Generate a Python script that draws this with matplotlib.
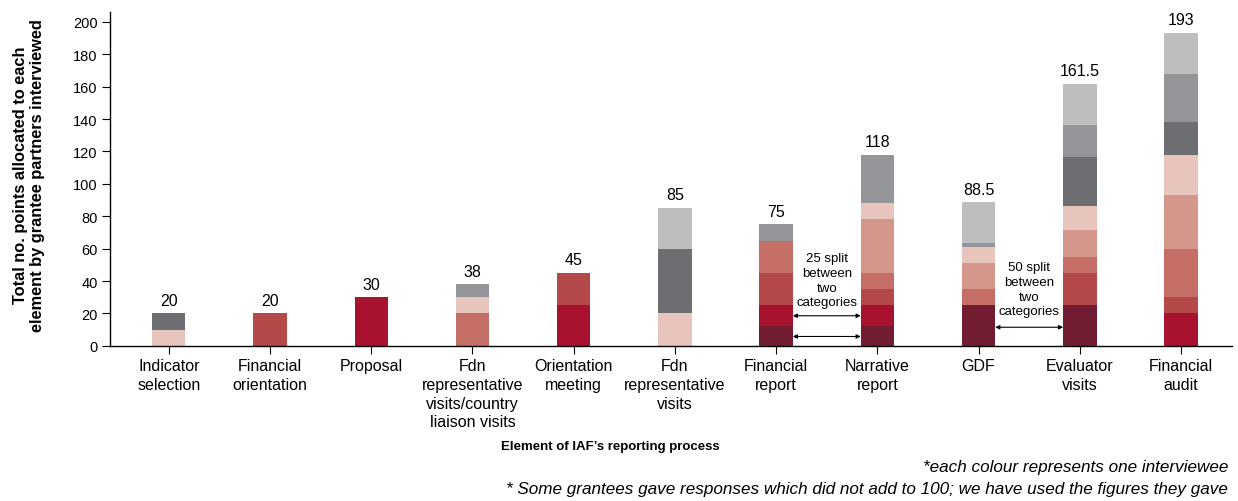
import matplotlib
matplotlib.use("Agg")
import matplotlib.pyplot as plt
import numpy as np

plt.rcParams['font.family'] = ['Liberation Sans', 'DejaVu Sans']

# categories on the x axis
categories = ["Indicator\nselection", "Financial\norientation", "Proposal",
              "Fdn\nrepresentative\nvisits/country\nliaison visits",
              "Orientation\nmeeting", "Fdn\nrepresentative\nvisits",
              "Financial\nreport", "Narrative\nreport", "GDF",
              "Evaluator\nvisits", "Financial\naudit"]

# points given by each interviewee (one colour each), bottom to top
maroon       = [0, 0, 0, 0, 0, 0, 12.5, 12.5, 25, 25, 0]
crimson      = [0, 0, 30, 0, 25, 0, 12.5, 12.5, 0, 0, 20]
red          = [0, 20, 0, 0, 20, 0, 20, 10, 0, 20, 10]
salmon       = [0, 0, 0, 20, 0, 0, 20, 10, 10, 10, 30]
light_salmon = [0, 0, 0, 0, 0, 0, 0, 33, 16, 16.5, 33]
pale_pink    = [10, 0, 0, 10, 0, 20, 0, 10, 10, 15, 25]
dark_grey    = [10, 0, 0, 0, 0, 40, 0, 0, 0, 30, 20]
mid_grey     = [0, 0, 0, 8, 0, 0, 10, 30, 2.5, 20, 30]
light_grey   = [0, 0, 0, 0, 0, 25, 0, 0, 25, 25, 25]

series = [maroon, crimson, red, salmon, light_salmon, pale_pink,
          dark_grey, mid_grey, light_grey]
colours = ["#721c31", "#a9122f", "#b54848", "#c46e66", "#d5978b",
           "#e8c5bc", "#6d6e72", "#939598", "#bdbec0"]

fig = plt.figure(figsize=(12.38, 5.02), dpi=100)
ax = fig.add_axes([0.0889, 0.309, 0.906, 0.665])

x = np.arange(len(categories))
bottom = np.zeros(len(categories))
for vals, col in zip(series, colours):
    ax.bar(x, vals, 0.33, bottom=bottom, color=col, linewidth=0)
    bottom += np.array(vals)

# totals above bars
for xi, t in zip(x, bottom):
    ax.text(xi, t + 3.5, f"{t:g}", ha="center", va="bottom", fontsize=11.5)

# split annotations
arrow = dict(arrowstyle="<|-|>", color="black", lw=0.8,
             mutation_scale=6, shrinkA=0, shrinkB=0)
for yy in (18.6, 5.8):
    ax.annotate("", xy=(6.165, yy), xytext=(6.835, yy), arrowprops=arrow)
ax.text(6.5, 40.5, "25 split\nbetween\ntwo\ncategories", ha="center",
        va="center", fontsize=9.5, linespacing=1.3)
ax.annotate("", xy=(8.165, 11.5), xytext=(8.835, 11.5), arrowprops=arrow)
ax.text(8.5, 35, "50 split\nbetween\ntwo\ncategories", ha="center",
        va="center", fontsize=9.5, linespacing=1.3)

ax.set_xlim(-0.58, 10.5)
ax.set_ylim(0, 206)
ax.set_yticks(range(0, 201, 20))
ax.set_xticks(x)
ax.set_xticklabels(categories, fontsize=11.5, linespacing=1.3)
ax.tick_params(axis="y", labelsize=10.5, length=6, width=0.8, pad=3)
ax.tick_params(axis="x", length=6, width=0.8, pad=3)
for s in ("top", "right"):
    ax.spines[s].set_visible(False)
for s in ("left", "bottom"):
    ax.spines[s].set_linewidth(1.0)

fig.text(0.0235, 0.651, "Total no. points allocated to each\nelement by grantee partners interviewed",
         rotation=90, ha="center", va="center", fontsize=11.8,
         fontweight="bold", linespacing=1.1)
fig.text(0.493, 0.1096, "Element of IAF\u2019s reporting process", ha="center",
         va="center", fontsize=9.5, fontweight="bold")

fig.text(0.992, 0.068, "*each colour represents one interviewee", ha="right",
         va="center", fontsize=12.3, style="italic")
fig.text(0.992, 0.024, "* Some grantees gave responses which did not add to 100; we have used the figures they gave",
         ha="right", va="center", fontsize=12.3, style="italic")

fig.savefig("out.png", dpi=100)
